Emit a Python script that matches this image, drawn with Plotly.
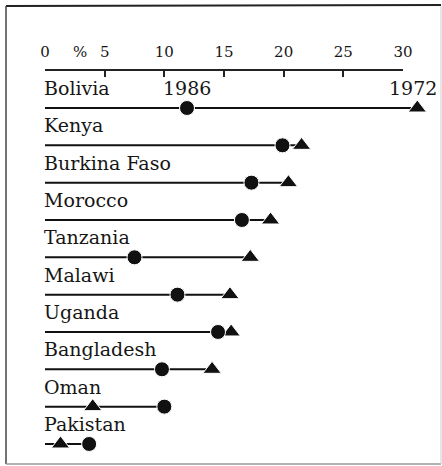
import plotly.graph_objects as go

countries = ["Bolivia", "Kenya", "Burkina Faso", "Morocco", "Tanzania",
             "Malawi", "Uganda", "Bangladesh", "Oman", "Pakistan"]
val_1986 = [11.9, 19.9, 17.3, 16.5, 7.5, 11.1, 14.5, 9.8, 10.0, 3.7]
val_1972 = [31.2, 21.5, 20.4, 18.9, 17.2, 15.5, 15.6, 14.0, 4.0, 1.3]
tick_vals = [0, 5, 10, 15, 20, 25, 30]
tick_text = ["0", "5", "10", "15", "20", "25", "30"]

W, H = 442, 466
PX0, PX30 = 45, 403           # pixel positions of 0 and 30
AXIS_Y = 70                   # pixel y of the axis line
ROW0_Y, ROW_STEP = 108, 37.33  # pixel y of first row line, spacing

scale = (PX30 - PX0) / 30.0
x_range = [-PX0 / scale, (W - PX0) / scale]
r_top = -ROW0_Y / ROW_STEP
r_bot = r_top + H / ROW_STEP

FONT = "DejaVu Serif"
TXT = "#161616"
rows = list(range(len(countries)))

fig = go.Figure()

fig.add_trace(go.Scatter(x=[0, 30], y=[0, 0], xaxis="x2", mode="markers",
                         marker=dict(opacity=0), hoverinfo="skip",
                         showlegend=False))

for i, c in enumerate(countries):
    fig.add_trace(go.Scatter(
        x=[0, max(val_1986[i], val_1972[i])], y=[i, i], mode="lines",
        line=dict(color="#111", width=2), hoverinfo="skip", showlegend=False,
        cliponaxis=False))

fig.add_trace(go.Scatter(
    x=val_1972, y=rows, mode="markers", name="1972",
    marker=dict(symbol="triangle-up", size=16, color="#111",
                line=dict(color="white", width=1)),
    cliponaxis=False, showlegend=False))
fig.add_trace(go.Scatter(
    x=val_1986, y=rows, mode="markers", name="1986",
    marker=dict(symbol="circle", size=15, color="#111",
                line=dict(color="white", width=1)),
    cliponaxis=False, showlegend=False))

annotations = []
for i, c in enumerate(countries):
    annotations.append(dict(x=0, y=i, xref="x", yref="y", text=c,
                            showarrow=False, xanchor="left", yanchor="middle",
                            yshift=20, xshift=-3,
                            font=dict(family=FONT, size=19, color=TXT)))
annotations.append(dict(x=val_1986[0], y=0, xref="x", yref="y", text="1986",
                        showarrow=False, xanchor="center", yanchor="middle",
                        yshift=20, font=dict(family=FONT, size=19, color=TXT)))
annotations.append(dict(x=val_1972[0], y=0, xref="x", yref="y", text="1972",
                        showarrow=False, xanchor="center", yanchor="middle",
                        yshift=20, xshift=-4,
                        font=dict(family=FONT, size=19, color=TXT)))
annotations.append(dict(x=2.9, y=1 - 52 / H, xref="x", yref="paper", text="%",
                        showarrow=False, xanchor="center", yanchor="middle",
                        font=dict(family=FONT, size=15, color=TXT)))

shapes = [
    dict(type="line", xref="paper", yref="paper", x0=6 / W, x1=441 / W,
         y0=1 - 6 / H, y1=1 - 5 / H, line=dict(color="#222", width=2)),
    dict(type="line", xref="paper", yref="paper", x0=6 / W, x1=6 / W,
         y0=1 - 6 / H, y1=1 - 464 / H, line=dict(color="#444", width=1.5)),
    dict(type="line", xref="paper", yref="paper", x0=6 / W, x1=441 / W,
         y0=1 - 464 / H, y1=1 - 464 / H, line=dict(color="#999", width=1.5)),
    dict(type="line", xref="paper", yref="paper", x0=441 / W, x1=441 / W,
         y0=1 - 6 / H, y1=1 - 464 / H, line=dict(color="#ccc", width=1)),
]

fig.update_layout(
    width=W, height=H,
    margin=dict(l=0, r=0, t=0, b=0, pad=0, autoexpand=False),
    paper_bgcolor="white", plot_bgcolor="rgba(0,0,0,0)",
    xaxis=dict(range=x_range, domain=[0, 1], visible=False, automargin=False),
    xaxis2=dict(range=[0, 30], domain=[PX0 / W, PX30 / W],
                anchor="free", position=1 - AXIS_Y / H, side="top",
                automargin=False,
                showline=True, linecolor="#222", linewidth=1.5,
                ticks="inside", ticklen=6, tickcolor="#222", tickwidth=1.5,
                tickvals=tick_vals, ticktext=tick_text, showgrid=False,
                zeroline=False, ticklabelstandoff=6,
                tickfont=dict(family=FONT, size=15, color=TXT)),
    yaxis=dict(range=[r_bot, r_top], domain=[0, 1], visible=False,
               automargin=False),
    annotations=annotations, shapes=shapes,
)

fig.write_html(
    "out.html", config={"displayModeBar": False},
    post_script=("document.body.style.margin='0';"
                 "document.body.style.overflow='hidden';"
                 "document.documentElement.style.overflow='hidden';"))
